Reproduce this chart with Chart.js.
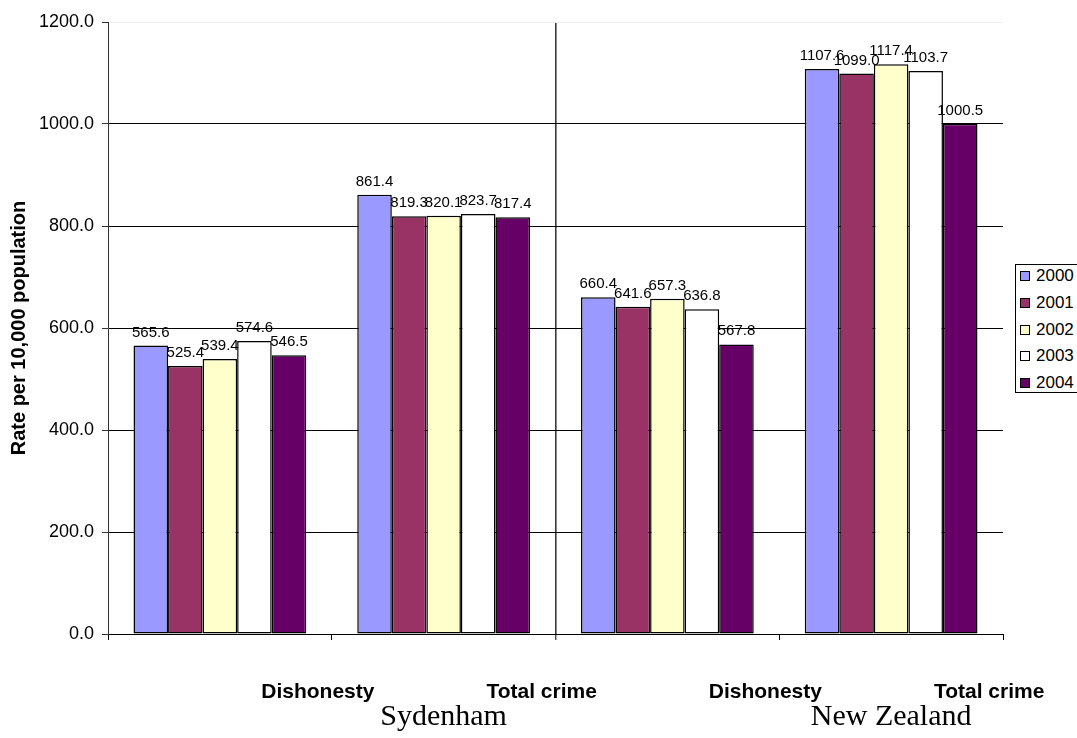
<!DOCTYPE html>
<html>
<head>
<meta charset="utf-8">
<title>Dishonesty and total crime rates</title>
<script src="https://cdn.jsdelivr.net/npm/chart.js@4/dist/chart.umd.min.js"></script>
<style>
  html, body { margin: 0; padding: 0; background: #fff; overflow: hidden; }
  #wrap { position: relative; width: 1077px; height: 738px; }
  #legend {
    position: absolute; left: 1015px; top: 264px; width: 80px; height: 129px;
    border: 1px solid #000; background: #fff; box-sizing: border-box;
    font-family: "Liberation Sans", Arial, sans-serif; font-size: 17px; color: #000;
  }
  #legend .item { position: absolute; left: 4px; height: 20px; line-height: 20px; white-space: nowrap; }
  #legend .sw { display: inline-block; width: 8px; height: 8px; border: 1px solid #000; margin-right: 6px; vertical-align: 0px; }
</style>
</head>
<body>
<div id="wrap">
  <canvas id="c" width="1077" height="738"></canvas>
  <div id="legend"></div>
</div>
<script>
// Categories along the x axis and the region each pair belongs to
const categories = ['Dishonesty', 'Total crime', 'Dishonesty', 'Total crime'];
const regions = ['', 'Sydenham', '', 'New Zealand'];

// Series: one per year
const years = ['2000', '2001', '2002', '2003', '2004'];
const rate2000 = [565.6, 861.4, 660.4, 1107.6];
const rate2001 = [525.4, 819.3, 641.6, 1099.0];
const rate2002 = [539.4, 820.1, 657.3, 1117.4];
const rate2003 = [574.6, 823.7, 636.8, 1103.7];
const rate2004 = [546.5, 817.4, 567.8, 1000.5];

// Value axis
const yMin = 0;
const yMax = 1200;
const yStep = 200;
const yTitle = 'Rate per 10,000 population';

const seriesValues = [rate2000, rate2001, rate2002, rate2003, rate2004];
const seriesColors = ['#9999FF', '#993366', '#FFFFCC', '#FFFFFF', '#660066'];

const FONT = '"Liberation Sans", Arial, sans-serif';
const SERIF = '"Liberation Serif", "Times New Roman", serif';

const datasets = years.map((y, i) => ({
  label: y,
  data: seriesValues[i],
  backgroundColor: seriesColors[i],
  borderColor: '#000',
  borderWidth: 1.5,
  borderSkipped: false,
  categoryPercentage: 0.772,
  barPercentage: 1.0,
  xAxisID: 'x',
  yAxisID: 'y'
}));

// Value labels above each bar
const valueLabels = {
  id: 'valueLabels',
  afterDatasetsDraw(chart) {
    const ctx = chart.ctx;
    ctx.save();
    ctx.font = '15px ' + FONT;
    ctx.fillStyle = '#000';
    ctx.textAlign = 'center';
    ctx.textBaseline = 'alphabetic';
    chart.data.datasets.forEach((ds, di) => {
      const meta = chart.getDatasetMeta(di);
      meta.data.forEach((bar, i) => {
        ctx.fillText(Number(ds.data[i]).toFixed(1), bar.x, bar.y - 9);
      });
    });
    ctx.restore();
  }
};

new Chart(document.getElementById('c'), {
  type: 'bar',
  data: { labels: categories, datasets },
  options: {
    responsive: false,
    animation: false,
    devicePixelRatio: 1,
    layout: { padding: { left: 0, top: 22, right: 74, bottom: 0 } },
    plugins: {
      legend: { display: false },
      tooltip: { enabled: false }
    },
    scales: {
      x: {
        type: 'category',
        position: 'bottom',
        offset: true,
        afterFit(s) { s.height = 71; },
        grid: {
          offset: true,
          drawOnChartArea: true,
          color: (c) => (c.index === 2 ? '#3a3a3a' : 'rgba(0,0,0,0)'),
          lineWidth: (c) => (c.index === 2 ? 1.6 : 1),
          tickColor: '#000',
          tickWidth: 1,
          tickLength: 6
        },
        border: { display: true, color: '#000', width: 1 },
        ticks: {
          color: '#000',
          font: { family: FONT, size: 21, weight: 'bold' },
          padding: 40,
          labelOffset: 98,
          maxRotation: 0,
          autoSkip: false
        }
      },
      x2: {
        type: 'category',
        position: 'bottom',
        labels: regions,
        offset: true,
        afterFit(s) { s.height = 33; },
        grid: { display: false, drawTicks: false },
        border: { display: false },
        ticks: {
          color: '#000',
          font: { family: SERIF, size: 30, lineHeight: 1 },
          padding: -3,
          maxRotation: 0,
          autoSkip: false
        }
      },
      y: {
        min: yMin,
        max: yMax,
        afterFit(s) { s.width = 108; },
        grid: {
          color: (c) => (c.tick && c.tick.value === yMax ? '#eeeeee' : '#000'),
          tickColor: '#333',
          tickLength: 6,
          tickWidth: 1
        },
        border: { display: true, color: '#333', width: 1 },
        ticks: {
          stepSize: yStep,
          color: '#000',
          padding: 8,
          font: { family: FONT, size: 18 },
          callback: (v) => Number(v).toFixed(1)
        },
        title: {
          display: true,
          text: yTitle,
          color: '#000',
          font: { family: FONT, size: 20, weight: 'bold' },
          padding: { top: 7, bottom: 0 }
        }
      }
    }
  },
  plugins: [valueLabels]
});

// Legend listing the years with their fill colours
const legend = document.getElementById('legend');
years.forEach((y, i) => {
  const item = document.createElement('div');
  item.className = 'item';
  item.style.top = (1 + i * 26.8) + 'px';
  const sw = document.createElement('span');
  sw.className = 'sw';
  sw.style.background = seriesColors[i];
  item.appendChild(sw);
  item.appendChild(document.createTextNode(y));
  legend.appendChild(item);
});
</script>
</body>
</html>
